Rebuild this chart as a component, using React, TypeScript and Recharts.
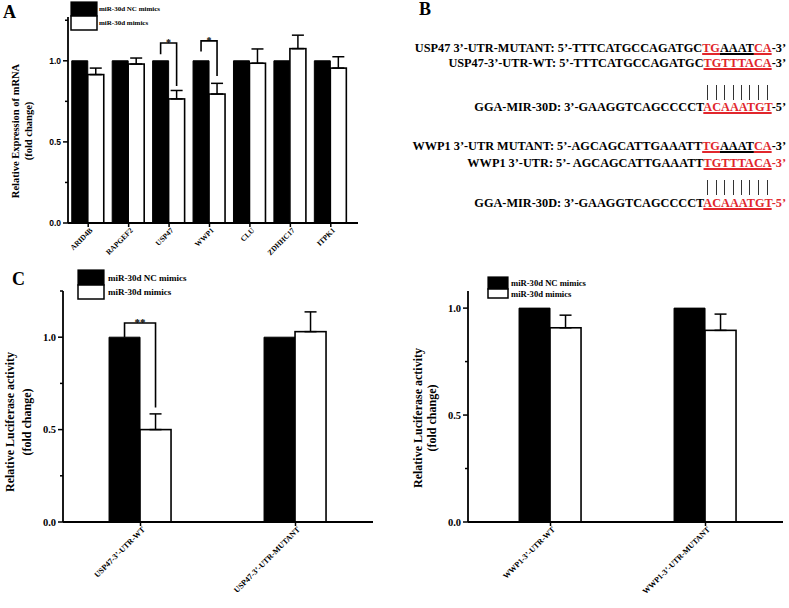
import React from "react";
import { Bar, BarChart, ErrorBar, XAxis, YAxis } from "recharts";

const SERIF = "'Liberation Serif', 'Times New Roman', serif";
const SANS = "'Liberation Sans', Arial, sans-serif";
const RED = "#e1262c";

const seriesNames = ["miR-30d NC mimics", "miR-30d mimics"];

// panel A - qPCR of candidate targets
const genes = ["ARID4B", "RAPGEF2", "USP47", "WWP1", "CLU", "ZDHHC17", "ITPK1"];
const geneNC = [1, 1, 1, 1, 1, 1, 1];
const geneMimic = [0.915, 0.98, 0.765, 0.795, 0.985, 1.075, 0.955];
const geneMimicErr = [0.04, 0.037, 0.052, 0.066, 0.088, 0.083, 0.07];
const geneStars = ["", "", "*", "*", "", "", ""];
// [left leg bottom, bracket top, right leg bottom]
const geneBrackets = [null, null, [1.04, 1.11, 0.845], [1.057, 1.123, 0.907], null, null, null];
const geneTicks = [0, 0.25, 0.5, 0.75, 1, 1.25];

// panel C left - USP47 luciferase
const uspConstructs = ["USP47-3’-UTR-WT", "USP47-3’-UTR-MUTANT"];
const uspNC = [1, 1];
const uspMimic = [0.5, 1.03];
const uspMimicErr = [0.085, 0.107];
const uspStars = ["**", ""];
const uspBrackets = [[1.0, 1.077, 0.62], null];
const uspTicks = [0, 0.25, 0.5, 0.75, 1, 1.25];

// panel C right - WWP1 luciferase
const wwpConstructs = ["WWP1-3’-UTR-WT", "WWP1-3’-UTR-MUTANT"];
const wwpNC = [1, 1];
const wwpMimic = [0.908, 0.896];
const wwpMimicErr = [0.059, 0.076];
const wwpTicks = [0, 0.25, 0.5, 0.75, 1];

const build = (names: string[], nc: number[], mimic: number[], err: number[], stars?: string[], brackets?: any[]) =>
  names.map((name, i) => ({
    name,
    nc: nc[i],
    mimic: mimic[i],
    err: [0, err[i]],
    star: stars ? stars[i] : "",
    bracket: brackets ? brackets[i] : null,
  }));

const geneData = build(genes, geneNC, geneMimic, geneMimicErr, geneStars, geneBrackets);
const uspData = build(uspConstructs, uspNC, uspMimic, uspMimicErr, uspStars, uspBrackets);
const wwpData = build(wwpConstructs, wwpNC, wwpMimic, wwpMimicErr);

const makeYTick = (font: string, size: number) => (props: any) => {
  const { x, y, payload } = props;
  const v = payload.value as number;
  const axisX = x + 7;
  const major = Math.abs(v * 2 - Math.round(v * 2)) < 1e-6;
  return (
    <g>
      <line x1={axisX - (major ? 5 : 3)} x2={axisX} y1={y} y2={y} stroke="#000" strokeWidth={1.5} />
      {major && (
        <text x={x} y={y} dy="0.35em" textAnchor="end" fontFamily={font} fontWeight="bold" fontSize={size} fill="#000">
          {v.toFixed(1)}
        </text>
      )}
    </g>
  );
};

const makeXTick = (size: number) => (props: any) => {
  const { x, y, payload } = props;
  return (
    <text
      x={x + 3}
      y={y}
      dy="0.35em"
      textAnchor="end"
      transform={`rotate(-45 ${x + 3} ${y})`}
      fontFamily={SERIF}
      fontWeight="bold"
      fontSize={size}
      fill="#000"
    >
      {payload.value}
    </text>
  );
};

const makeMimicBar = (starSize: number) => (props: any) => {
  const { x, y, width, height, payload } = props;
  const base = y + height;
  const perUnit = height / payload.mimic;
  const toY = (v: number) => base - v * perUnit;
  const b = payload.bracket;
  return (
    <g>
      <rect x={x} y={y} width={width} height={height} fill="#fff" stroke="#000" strokeWidth={1.6} />
      {b && (
        <g>
          <polyline
            points={`${x - width / 2},${toY(b[0])} ${x - width / 2},${toY(b[1])} ${x + width / 2},${toY(b[1])} ${x + width / 2},${toY(b[2])}`}
            fill="none"
            stroke="#000"
            strokeWidth={1.6}
          />
          <text x={x} y={toY(b[1]) + 3} textAnchor="middle" fontFamily={SERIF} fontWeight="bold" fontSize={starSize}>
            {payload.star}
          </text>
        </g>
      )}
    </g>
  );
};

function Panel(p: {
  data: any[];
  left: number;
  top: number;
  width: number;
  height: number;
  margin: any;
  domain: [number, number];
  ticks: number[];
  yFont: string;
  yFontSize: number;
  xFontSize: number;
  xHeight: number;
  pad: { left: number; right: number };
  gap: string;
  starSize: number;
}) {
  return (
    <div style={{ position: "absolute", left: p.left, top: p.top }}>
      <BarChart width={p.width} height={p.height} data={p.data} margin={p.margin} barGap={0} barCategoryGap={p.gap}>
        <XAxis
          dataKey="name"
          interval={0}
          height={p.xHeight}
          padding={p.pad}
          tickSize={4}
          tickMargin={2}
          tickLine={{ stroke: "#000", strokeWidth: 1.5 }}
          axisLine={{ stroke: "#000", strokeWidth: 1.8 }}
          tick={makeXTick(p.xFontSize)}
        />
        <YAxis
          width={40}
          type="number"
          domain={p.domain}
          ticks={p.ticks}
          interval={0}
          tickSize={5}
          tickMargin={2}
          tickLine={false}
          axisLine={{ stroke: "#000", strokeWidth: 1.8 }}
          tick={makeYTick(p.yFont, p.yFontSize)}
        />
        <Bar dataKey="nc" name={seriesNames[0]} fill="#000" stroke="#000" strokeWidth={1} isAnimationActive={false} />
        <Bar dataKey="mimic" name={seriesNames[1]} fill="#fff" shape={makeMimicBar(p.starSize)} isAnimationActive={false}>
          <ErrorBar dataKey="err" direction="y" width={6} stroke="#000" strokeWidth={1.5} isAnimationActive={false} />
        </Bar>
      </BarChart>
    </div>
  );
}

function LegendBox(p: { x: number; y: number; w: number; h1: number; h2: number; textX: number; fontSize: number }) {
  return (
    <g>
      <rect x={p.x} y={p.y} width={p.w} height={p.h1} fill="#000" stroke="#000" strokeWidth={1.2} />
      <rect x={p.x} y={p.y + p.h1} width={p.w} height={p.h2} fill="#fff" stroke="#000" strokeWidth={1.5} />
      <text x={p.textX} y={p.y + p.h1 / 2} dy="0.35em" fontFamily={SERIF} fontWeight="bold" fontSize={p.fontSize}>
        {seriesNames[0]}
      </text>
      <text x={p.textX} y={p.y + p.h1 + p.h2 / 2} dy="0.35em" fontFamily={SERIF} fontWeight="bold" fontSize={p.fontSize}>
        {seriesNames[1]}
      </text>
    </g>
  );
}

function YTitle(p: { x1: number; x2: number; cy: number; lines: string[]; fontSize: number }) {
  return (
    <g fontFamily={SERIF} fontWeight="bold" fontSize={p.fontSize} textAnchor="middle">
      <text transform={`translate(${p.x1},${p.cy}) rotate(-90)`} dy="0.35em">
        {p.lines[0]}
      </text>
      <text transform={`translate(${p.x2},${p.cy}) rotate(-90)`} dy="0.35em">
        {p.lines[1]}
      </text>
    </g>
  );
}

// panel B sequence alignment
type Part = [string, "k" | "r", boolean];
const seqRows: { top: number; parts: Part[] }[] = [
  { top: 41, parts: [["USP47 3’-UTR-MUTANT: 5’-TTTCATGCCAGATGC", "k", false], ["TG", "r", true], ["AAAT", "k", true], ["CA", "r", true], ["-3’", "k", false]] },
  { top: 56, parts: [["USP47-3’-UTR-WT: 5’-TTTCATGCCAGATGC", "k", false], ["TGTTTACA", "r", true], ["-3’", "k", false]] },
  { top: 100, parts: [["GGA-MIR-30D: 3’-GAAGGTCAGCCCCT", "k", false], ["ACAAATGT", "r", true], ["-5’", "k", false]] },
  { top: 139, parts: [["WWP1 3’-UTR MUTANT: 5’-AGCAGCATTGAAATT", "k", false], ["TG", "r", true], ["AAAT", "k", true], ["CA", "r", true], ["-3’", "k", false]] },
  { top: 156, parts: [["WWP1 3’-UTR: 5’- AGCAGCATTGAAATT", "k", false], ["TGTTTACA", "r", true], ["-3’", "r", false]] },
  { top: 196, parts: [["GGA-MIR-30D: 3’-GAAGGTCAGCCCCT", "k", false], ["ACAAATGT", "r", true], ["-5’", "r", false]] },
];
const pairRows = [
  { top: 85, prefix: "USP47-3’-UTR-WT: 5’-TTTCATGCCAGATGC", seed: "TGTTTACA", suffix: "-3’" },
  { top: 180, prefix: "WWP1 3’-UTR: 5’- AGCAGCATTGAAATT", seed: "TGTTTACA", suffix: "-3’" },
];

const seqStyle: React.CSSProperties = {
  position: "absolute",
  right: 3,
  whiteSpace: "nowrap",
  fontFamily: SERIF,
  fontWeight: "bold",
  fontSize: 12.3,
  lineHeight: "14px",
};

function PanelB() {
  return (
    <>
      {seqRows.map((row, i) => (
        <div key={`seq-${i}`} style={{ ...seqStyle, top: row.top }}>
          {row.parts.map(([t, c, u], j) => (
            <span
              key={j}
              style={{
                color: c === "r" ? RED : "#000",
                textDecoration: u ? "underline" : "none",
                textDecorationThickness: "1.5px",
                textUnderlineOffset: "1px",
              }}
            >
              {t}
            </span>
          ))}
        </div>
      ))}
      {pairRows.map((row, i) => (
        <div key={`pair-${i}`} style={{ ...seqStyle, top: row.top, color: "transparent", lineHeight: "15px" }}>
          <span>{row.prefix}</span>
          {row.seed.split("").map((ch, j) => (
            <span key={j} style={{ position: "relative", display: "inline-block" }}>
              {ch}
              <span
                style={{
                  position: "absolute",
                  left: "50%",
                  top: 0,
                  height: 15,
                  borderLeft: "1px solid #333",
                }}
              />
            </span>
          ))}
          <span>{row.suffix}</span>
        </div>
      ))}
    </>
  );
}

export default function App() {
  return (
    <div style={{ position: "absolute", left: 0, top: 0, width: 789, height: 608, background: "#fff", overflow: "hidden" }}>
      <Panel
        data={geneData}
        left={0}
        top={0}
        width={370}
        height={270}
        margin={{ top: 17, right: 12, bottom: 7, left: 28 }}
        domain={[0, 1.27]}
        ticks={geneTicks}
        yFont={SANS}
        yFontSize={8.5}
        xFontSize={7.5}
        xHeight={40}
        pad={{ left: 0, right: 7 }}
        gap="9.3%"
        starSize={10}
      />
      <Panel
        data={uspData}
        left={0}
        top={270}
        width={400}
        height={338}
        margin={{ top: 21, right: 27, bottom: 16, left: 23 }}
        domain={[0, 1.25]}
        ticks={uspTicks}
        yFont={SERIF}
        yFontSize={10.5}
        xFontSize={8}
        xHeight={70}
        pad={{ left: 0, right: 0 }}
        gap="29.7%"
        starSize={11}
      />
      <Panel
        data={wwpData}
        left={400}
        top={270}
        width={389}
        height={338}
        margin={{ top: 21, right: 6, bottom: 16, left: 28 }}
        domain={[0, 1.08]}
        ticks={wwpTicks}
        yFont={SERIF}
        yFontSize={10.5}
        xFontSize={8}
        xHeight={70}
        pad={{ left: 5, right: 0 }}
        gap="29.7%"
        starSize={11}
      />
      <svg width={789} height={608} style={{ position: "absolute", left: 0, top: 0, pointerEvents: "none" }}>
        <g fontFamily={SERIF} fontWeight="bold" fontSize={18}>
          <text x={3} y={18}>A</text>
          <text x={419} y={15}>B</text>
          <text x={12} y={285}>C</text>
        </g>
        <LegendBox x={71} y={2} w={26} h1={14} h2={14} textX={99} fontSize={7} />
        <LegendBox x={78} y={270} w={26} h1={15} h2={14} textX={108} fontSize={9} />
        <LegendBox x={488} y={277} w={20} h1={12} h2={9} textX={511} fontSize={8.6} />
        <YTitle x1={15} x2={28} cy={131} lines={["Relative Expression of mRNA", "(fold change)"]} fontSize={10.5} />
        <YTitle x1={10} x2={27} cy={422} lines={["Relative Luciferase activity", "(fold change)"]} fontSize={12} />
        <YTitle x1={418} x2={432} cy={418} lines={["Relative Luciferase activity", "(fold change)"]} fontSize={12} />
      </svg>
      <PanelB />
    </div>
  );
}
